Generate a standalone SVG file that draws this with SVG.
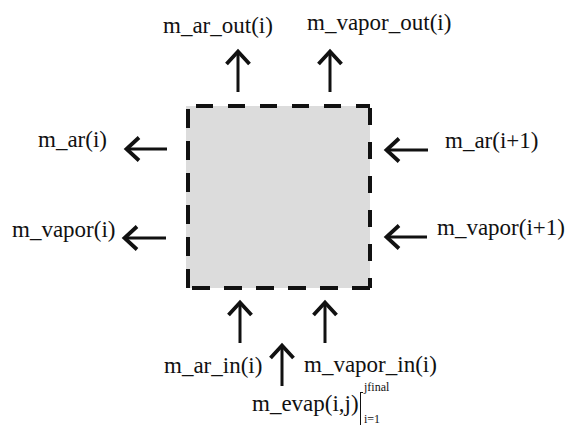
<svg xmlns="http://www.w3.org/2000/svg" width="566" height="425" viewBox="0 0 566 425">
  <style>
    .lbl { font-family: "Liberation Serif", "Times New Roman", serif; font-size: 23px; fill: #111; }
    .small { font-family: "Liberation Serif", "Times New Roman", serif; font-size: 12px; fill: #111; }
    .arrow { stroke: #111; stroke-width: 3; fill: none; marker-end: url(#head); }
  </style>
  <defs>
    <marker id="head" markerUnits="userSpaceOnUse" markerWidth="30" markerHeight="30" viewBox="-20 -15 25 30" refX="0" refY="0" orient="auto" overflow="visible">
      <path d="M-13,-11.5 L-0.5,0 L-13,11.5" fill="none" stroke="#111" stroke-width="3.8" stroke-linejoin="miter" stroke-miterlimit="10"/>
    </marker>
  </defs>
  <rect width="566" height="425" fill="#ffffff"/>

  <g id="control-volume">
    <rect x="186" y="106" width="184" height="182" fill="#dcdcdc"/>
    <path d="M196,106 H370" fill="none" stroke="#111" stroke-width="4" stroke-dasharray="17 15"/>
    <path d="M370,106 V288" fill="none" stroke="#111" stroke-width="4" stroke-dasharray="0 2 17 15"/>
    <path d="M370,288 H191" fill="none" stroke="#111" stroke-width="4" stroke-dasharray="18 14"/>
    <path d="M188,288 V106" fill="none" stroke="#111" stroke-width="4" stroke-dasharray="19 13"/>
  </g>

  <g id="connectors">
    <line class="arrow" x1="238" y1="92" x2="238" y2="51"/>
    <line class="arrow" x1="330" y1="92" x2="330" y2="51"/>
    <line class="arrow" x1="167" y1="149" x2="126" y2="149"/>
    <line class="arrow" x1="166" y1="238" x2="124" y2="238"/>
    <line class="arrow" x1="428" y1="150" x2="386" y2="150"/>
    <line class="arrow" x1="427" y1="237" x2="386" y2="237"/>
    <line class="arrow" x1="240" y1="343" x2="240" y2="302"/>
    <line class="arrow" x1="325" y1="343" x2="325" y2="302"/>
    <line class="arrow" x1="282" y1="386" x2="282" y2="345"/>
  </g>

  <g id="m_ar_out"><text class="lbl" x="163" y="33">m_ar_out(i)</text></g>
  <g id="m_vapor_out"><text class="lbl" x="307" y="30">m_vapor_out(i)</text></g>
  <g id="m_ar"><text class="lbl" x="38" y="147">m_ar(i)</text></g>
  <g id="m_vapor"><text class="lbl" x="12" y="237">m_vapor(i)</text></g>
  <g id="m_ar_next"><text class="lbl" x="445" y="148">m_ar(i+1)</text></g>
  <g id="m_vapor_next"><text class="lbl" x="437" y="235">m_vapor(i+1)</text></g>
  <g id="m_ar_in"><text class="lbl" x="164" y="373">m_ar_in(i)</text></g>
  <g id="m_vapor_in"><text class="lbl" x="304" y="372">m_vapor_in(i)</text></g>
  <g id="m_evap">
    <text class="lbl" x="252" y="411">m_evap(i,j)</text>
    <path d="M360.5,392 V425 M360.5,392.5 H363" fill="none" stroke="#111" stroke-width="1"/>
    <text class="small" x="364" y="391">jfinal</text>
    <text class="small" x="364" y="423">i=1</text>
  </g>
</svg>
